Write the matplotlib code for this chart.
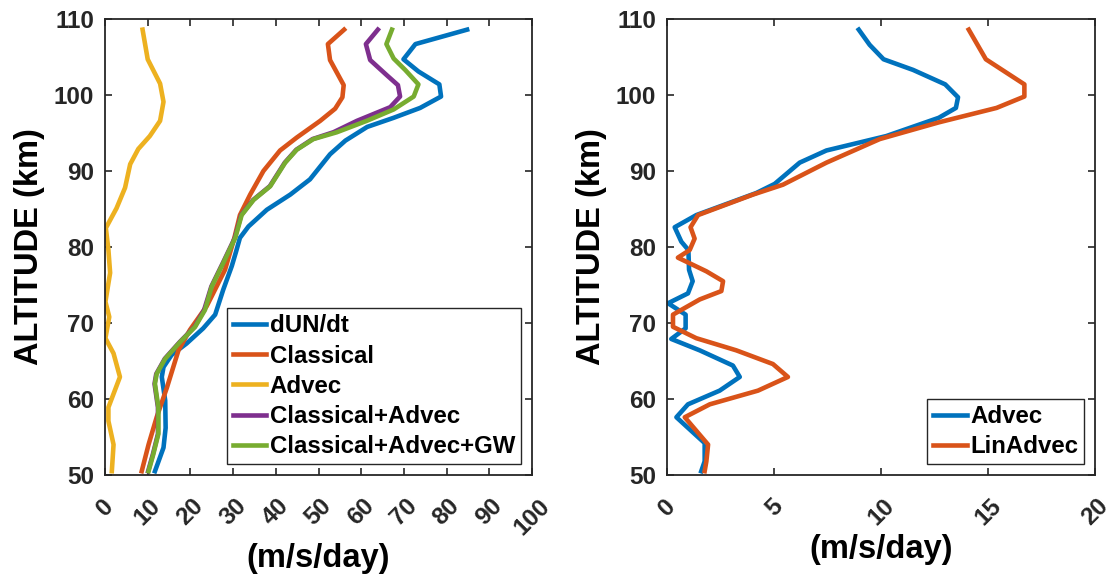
import matplotlib
matplotlib.use('Agg')
import matplotlib.pyplot as plt
import numpy as np

plt.rcParams['font.family'] = ['Liberation Sans', 'DejaVu Sans']
plt.rcParams['font.weight'] = 'bold'
plt.rcParams['text.color'] = '#262626'

# ---- left panel data (value m/s/day, altitude km)
dun_alt = [108.6, 106.7, 104.7, 103.1, 101.4, 99.8, 98.3, 97.0, 95.8, 94.0, 92.2, 88.9, 86.9, 84.9, 82.7,
           81.2, 79.4, 77.5, 74.4, 71.1, 69.3, 67.3, 65.8, 64.2, 62.9, 59.8, 56.2, 53.6, 50.5]
dun_val = [84.8, 72.7, 69.9, 73.4, 78.3, 78.7, 73.8, 67.6, 61.4, 56.3, 52.7, 48.0, 43.4, 37.9, 33.6,
           31.6, 30.7, 29.7, 27.7, 25.8, 23.0, 19.1, 15.6, 13.7, 13.3, 14.1, 14.2, 13.7, 11.7]

cls_alt = [108.6, 106.7, 104.6, 101.3, 99.7, 98.2, 96.6, 94.4, 92.7, 90.0, 86.9, 84.2, 81.2,
           77.0, 72.2, 69.1, 66.4, 61.5, 57.6, 54.0, 50.5]
cls_val = [56.0, 52.2, 52.7, 55.9, 55.6, 53.9, 50.4, 44.9, 41.0, 37.1, 34.0, 31.6, 30.3,
           28.1, 23.8, 19.9, 17.2, 14.5, 12.1, 10.2, 8.6]

adv_alt = [108.6, 104.7, 101.5, 99.1, 96.6, 94.6, 92.9, 90.9, 87.8, 85.1, 82.5, 79.6, 76.6, 72.8,
           70.8, 68.0, 66.0, 62.9, 58.9, 57.1, 54.0, 50.5]
adv_val = [8.8, 10.0, 12.9, 13.7, 12.9, 10.5, 7.8, 5.9, 4.7, 2.7, 0.2, 0.8, 1.2, 0.1,
           1.0, 0.1, 2.0, 3.5, 0.8, 0.8, 2.0, 1.6]

ca_alt = [108.6, 106.7, 104.6, 102.6, 101.3, 99.8, 98.4, 96.6, 95.1, 94.2, 92.8, 91.1, 88.0, 86.2,
          84.2, 81.2, 77.9, 74.8, 71.7, 69.5, 67.5, 65.3, 63.3, 62.0, 58.9, 55.4, 52.7, 50.5]
ca_val = [63.9, 61.1, 62.1, 66.0, 68.6, 69.1, 66.8, 59.0, 53.5, 48.6, 44.8, 42.1, 38.6, 34.7,
          31.9, 30.4, 27.6, 24.9, 23.2, 21.0, 17.5, 14.0, 12.0, 11.6, 12.4, 12.4, 11.2, 10.1]

cag_alt = [108.6, 106.7, 104.8, 103.3, 101.4, 99.8, 98.1, 96.6, 95.1, 94.2, 92.8, 91.1, 88.0, 86.2,
           84.2, 81.2, 77.9, 74.8, 71.7, 69.5, 67.5, 65.3, 63.3, 62.0, 58.9, 55.4, 52.7, 50.5]
cag_val = [67.2, 65.9, 67.6, 70.3, 73.4, 72.3, 67.6, 61.3, 54.3, 48.8, 44.9, 42.2, 38.7, 34.8,
           32.0, 30.5, 27.7, 25.0, 23.4, 21.1, 17.6, 14.1, 12.1, 11.7, 12.5, 12.5, 11.3, 10.2]

# ---- right panel data
r_adv_alt = [108.6, 106.6, 104.7, 103.3, 101.4, 99.7, 98.3, 97.0, 94.6, 92.7, 91.1, 88.3, 87.1, 84.2,
             82.6, 80.7, 79.6, 77.0, 75.5, 73.9, 72.6, 71.1, 69.3, 67.9, 66.4, 64.4, 62.9, 61.1,
             59.3, 57.6, 54.2, 51.8, 50.5]
r_adv_val = [8.96, 9.47, 10.12, 11.5, 13.0, 13.6, 13.5, 12.7, 10.25, 7.45, 6.2, 5.03, 4.17, 1.37,
             0.36, 0.67, 1.0, 1.03, 1.2, 0.98, 0.05, 0.87, 0.87, 0.2, 1.53, 3.08, 3.4, 2.46,
             0.98, 0.44, 1.76, 1.76, 1.6]

r_lin_alt = [108.6, 104.7, 101.4, 99.8, 98.3, 96.4, 94.2, 91.1, 88.2, 86.9, 84.2, 82.6, 81.1, 79.6,
             78.6, 76.8, 75.5, 74.2, 73.1, 71.1, 69.5, 68.0, 66.4, 64.6, 62.9, 61.1, 59.3, 57.6,
             54.0, 51.8, 50.5]
r_lin_val = [14.1, 14.9, 16.7, 16.7, 15.4, 12.7, 9.94, 7.45, 5.42, 4.02, 1.45, 1.1, 1.29, 1.06,
             0.51, 1.84, 2.62, 2.54, 1.53, 0.28, 0.28, 1.37, 3.24, 4.95, 5.65, 4.25, 2.0, 0.83,
             1.92, 1.84, 1.76]

colors = ['#0072BD', '#D95319', '#EDB120', '#7E2F8E', '#77AC30']
lw = 3.3

fig = plt.figure(figsize=(11.12, 5.79), dpi=100)
ax1 = fig.add_axes([105 / 1112, 1 - 475 / 579, 427 / 1112, 456 / 579])
ax2 = fig.add_axes([667 / 1112, 1 - 475 / 579, 428 / 1112, 456 / 579])

ax1.plot(dun_val, dun_alt, color=colors[0], lw=lw, label='dUN/dt')
ax1.plot(cls_val, cls_alt, color=colors[1], lw=lw, label='Classical')
ax1.plot(adv_val, adv_alt, color=colors[2], lw=lw, label='Advec')
ax1.plot(ca_val, ca_alt, color=colors[3], lw=lw, label='Classical+Advec')
ax1.plot(cag_val, cag_alt, color=colors[4], lw=lw, label='Classical+Advec+GW')

ax2.plot(r_adv_val, r_adv_alt, color=colors[0], lw=lw, label='Advec')
ax2.plot(r_lin_val, r_lin_alt, color=colors[1], lw=lw, label='LinAdvec')

for ax, xmax, step in [(ax1, 100, 10), (ax2, 20, 5)]:
    ax.set_xlim(0, xmax)
    ax.set_ylim(50, 110)
    ax.set_xticks(np.arange(0, xmax + 1, step))
    ax.set_yticks(np.arange(50, 111, 10))
    ax.tick_params(direction='in', length=5, width=1.2, top=True, right=True,
                   labelsize=17.5, colors='#262626', pad=8)
    ax.tick_params(axis='x', pad=14)
    for lab in ax.get_xticklabels():
        lab.set_rotation(45)
        lab.set_ha('center')
        lab.set_fontweight('bold')
    for lab in ax.get_yticklabels():
        lab.set_fontweight('bold')
    for s in ax.spines.values():
        s.set_linewidth(1.3)
        s.set_color('#262626')
    ax.set_xlabel('(m/s/day)', fontsize=23.5, fontweight='bold', labelpad=3)
    ax.set_ylabel('ALTITUDE (km)', fontsize=23.5, fontweight='bold', labelpad=6)

leg_kw = dict(fontsize=17.3, handlelength=1.4, handletextpad=0.15, labelspacing=0.3,
              borderpad=0.25, fancybox=False, framealpha=1, borderaxespad=0.45)
l1 = ax1.legend(loc='lower right', **leg_kw)
l2 = ax2.legend(loc='lower right', **leg_kw)
for l in (l1, l2):
    l.get_frame().set_edgecolor('#262626')
    l.get_frame().set_linewidth(1.0)
    for t in l.get_texts():
        t.set_color('black')

fig.savefig('out.png', dpi=100)
